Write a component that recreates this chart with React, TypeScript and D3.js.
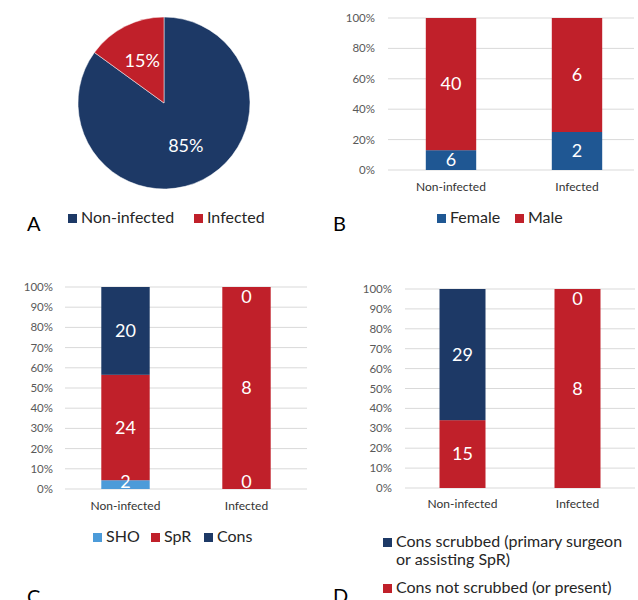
import * as React from 'react';
import * as d3 from 'd3';

// data
const pieLabels = ['Non-infected', 'Infected'];
const pieValues = [85, 15];

const categories = ['Non-infected', 'Infected'];

const sexKeys = ['Female', 'Male'];
const femaleCounts = [6, 2];
const maleCounts = [40, 6];

const gradeKeys = ['SHO', 'SpR', 'Cons'];
const shoCounts = [2, 0];
const sprCounts = [24, 8];
const consCounts = [20, 0];

const scrubKeys = ['Cons not scrubbed (or present)', 'Cons scrubbed (primary surgeon or assisting SpR)'];
const notScrubbedCounts = [15, 8];
const scrubbedCounts = [29, 0];

const ticks20 = [0, 20, 40, 60, 80, 100];
const ticks10 = [0, 10, 20, 30, 40, 50, 60, 70, 80, 90, 100];

const NAVY = '#1d3966';
const RED = '#c0202a';
const STEEL = '#1f5793';
const LIGHT = '#4c9bd9';
const FONT = 'Lato, "Open Sans", sans-serif';

interface Series {
  name: string;
  color: string;
  values: number[];
}

interface PanelProps {
  series: Series[];
  ticks: number[];
  x0: number;
  step: number;
  gridX1: number;
  top: number;
  bottom: number;
  tickX: number;
  catY: number;
}

const StackedPanel = (props: PanelProps) => {
  const { series, ticks, x0, step, gridX1, top, bottom, tickX, catY } = props;

  const x = d3.scaleBand<string>()
    .domain(categories)
    .range([x0, x0 + step * categories.length])
    .paddingInner(0.6)
    .paddingOuter(0.3);
  const y = d3.scaleLinear().domain([0, 100]).range([bottom, top]);

  const rows = categories.map((c, i) => {
    const r: any = { cat: c };
    series.forEach(s => { r[s.name] = s.values[i]; });
    return r;
  });
  const stacked = d3.stack<any>()
    .keys(series.map(s => s.name))
    .offset(d3.stackOffsetExpand)(rows);

  return (
    <g>
      {ticks.map(t => (
        <g key={t}>
          <line x1={x0} x2={gridX1} y1={y(t)} y2={y(t)} stroke="#d9d9d9" strokeWidth={1} />
          <text x={tickX} y={y(t)} dy="0.35em" textAnchor="end" fontSize={11.5} fill="#595959" fontFamily={FONT}>{t}%</text>
        </g>
      ))}
      {stacked.map((layer, li) => (
        <g key={layer.key} fill={series[li].color}>
          {layer.map((d, i) => (
            <rect key={i} x={x(categories[i])} width={x.bandwidth()}
              y={y(d[1] * 100)} height={y(d[0] * 100) - y(d[1] * 100)} />
          ))}
        </g>
      ))}
      {stacked.map((layer, li) => (
        <g key={layer.key + '-lbl'}>
          {layer.map((d, i) => {
            const mid = (y(d[0] * 100) + y(d[1] * 100)) / 2;
            const cy = Math.min(Math.max(mid, top + 10), bottom - 7);
            return (
              <text key={i} x={(x(categories[i]) as number) + x.bandwidth() / 2} y={cy} dy="0.35em"
                textAnchor="middle" fontSize={18} fill="#fff" fontFamily={FONT}>
                {series[li].values[i]}
              </text>
            );
          })}
        </g>
      ))}
      {categories.map(c => (
        <text key={c} x={(x(c) as number) + x.bandwidth() / 2} y={catY} textAnchor="middle"
          fontSize={12} fill="#333" fontFamily={FONT}>{c}</text>
      ))}
    </g>
  );
};

const Swatch = (p: { x: number; y: number; color: string; label: string }) => (
  <g>
    <rect x={p.x} y={p.y - 9} width={9} height={9} fill={p.color} />
    <text x={p.x + 13} y={p.y} fontSize={16} fill="#262626" fontFamily={FONT}>{p.label}</text>
  </g>
);

const PieA = () => {
  const cx = 164, cy = 103, r = 86;
  const pie = d3.pie<number>().sort(null)(pieValues);
  const arc = d3.arc<d3.PieArcDatum<number>>().innerRadius(0).outerRadius(r);
  const labelArc = d3.arc<d3.PieArcDatum<number>>().innerRadius(48).outerRadius(48);
  const colors = [NAVY, RED];
  return (
    <g transform={`translate(${cx},${cy})`}>
      {pie.map((p, i) => (
        <path key={pieLabels[i]} d={arc(p) as string} fill={colors[i]} stroke="#fff" strokeWidth={0.5} />
      ))}
      {pie.map((p, i) => {
        const [lx, ly] = labelArc.centroid(p);
        return (
          <text key={i} x={lx} y={ly} dy="0.35em" textAnchor="middle" fontSize={18} fill="#fff" fontFamily={FONT}>
            {pieValues[i]}%
          </text>
        );
      })}
    </g>
  );
};

export default function App() {
  const sexSeries: Series[] = [
    { name: sexKeys[0], color: STEEL, values: femaleCounts },
    { name: sexKeys[1], color: RED, values: maleCounts },
  ];
  const gradeSeries: Series[] = [
    { name: gradeKeys[0], color: LIGHT, values: shoCounts },
    { name: gradeKeys[1], color: RED, values: sprCounts },
    { name: gradeKeys[2], color: NAVY, values: consCounts },
  ];
  const scrubSeries: Series[] = [
    { name: scrubKeys[0], color: RED, values: notScrubbedCounts },
    { name: scrubKeys[1], color: NAVY, values: scrubbedCounts },
  ];

  return (
    <svg width={638} height={600} style={{ position: 'absolute', left: 0, top: 0, background: '#fff' }}>
      {/* A */}
      <PieA />
      <Swatch x={68} y={223} color={NAVY} label={pieLabels[0]} />
      <Swatch x={194} y={223} color={RED} label={pieLabels[1]} />
      <text x={27} y={231} fontSize={20} fill="#000" fontFamily={FONT}>A</text>

      {/* B */}
      <StackedPanel series={sexSeries} ticks={ticks20} x0={388} step={126} gridX1={634}
        top={18} bottom={170} tickX={375} catY={191} />
      <Swatch x={437} y={223} color={STEEL} label={sexKeys[0]} />
      <Swatch x={515} y={223} color={RED} label={sexKeys[1]} />
      <text x={333} y={231} fontSize={20} fill="#000" fontFamily={FONT}>B</text>

      {/* C */}
      <StackedPanel series={gradeSeries} ticks={ticks10} x0={65} step={121} gridX1={307}
        top={287} bottom={489} tickX={53} catY={510} />
      <Swatch x={93} y={542} color={LIGHT} label={gradeKeys[0]} />
      <Swatch x={151} y={542} color={RED} label={gradeKeys[1]} />
      <Swatch x={204} y={542} color={NAVY} label={gradeKeys[2]} />
      <text x={27} y={604} fontSize={20} fill="#000" fontFamily={FONT}>C</text>

      {/* D */}
      <StackedPanel series={scrubSeries} ticks={ticks10} x0={405} step={115} gridX1={635}
        top={289} bottom={488} tickX={392} catY={508} />
      <Swatch x={383} y={547} color={NAVY} label="Cons scrubbed (primary surgeon" />
      <text x={396} y={565} fontSize={16} fill="#262626" fontFamily={FONT}>or assisting SpR)</text>
      <Swatch x={383} y={593} color={RED} label={scrubKeys[0]} />
      <text x={333} y={603} fontSize={20} fill="#000" fontFamily={FONT}>D</text>
    </svg>
  );
}
